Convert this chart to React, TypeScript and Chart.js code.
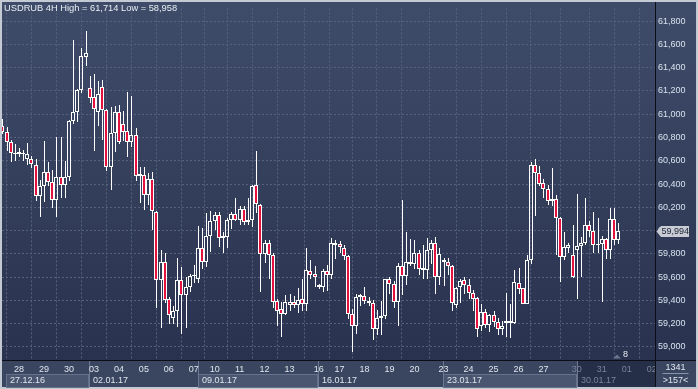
import { useEffect, useRef } from 'react';
import { Chart, registerables } from 'chart.js';

Chart.register(...registerables);

// ---- data (USDRUB 4H candles, oldest -> newest) ----
const opens = [
  60900, 60846, 60762, 60660, 60662, 60655, 60618, 60618, 60567, 60297,
  60382, 60500, 60416, 60264, 60458, 60390, 60458, 60939, 61023, 61209,
  61488, 61226, 61150, 61015, 61234, 61040, 60550, 60838, 61023, 60914,
  60855, 60762, 60821, 60466, 60474, 60306, 60441, 60162, 59571, 59732,
  59411, 59250, 59310, 59571, 59445, 59512, 59613, 59588, 59850, 59732,
  59951, 60086, 60137, 59934, 59942, 60095, 60145, 60095, 60188, 60095,
  60095, 60390, 60221, 59799, 59892, 59791, 59394, 59327, 59284, 59360,
  59386, 59360, 59411, 59369, 59656, 59630, 59512, 59512, 59656, 59622,
  59875, 59884, 59850, 59782, 59284, 59183, 59428, 59436, 59394, 59377,
  59150, 59250, 59267, 59588, 59538, 59386, 59698, 59613, 59715, 59715,
  59808, 59681, 59664, 59833, 59892, 59597, 59732, 59732, 59698, 59360,
  59512, 59571, 59529, 59461, 59419, 59183, 59301, 59191, 59276, 59217,
  59158, 59208, 59208, 59208, 59546, 59504, 59369, 59748, 60567, 60491,
  60407, 60356, 60255, 60272, 60112, 59774, 59850, 59791, 59833, 59867,
  59892, 60052, 59993, 59875, 59884, 59926, 59833, 60103, 59917,
];
const highs = [
  60960, 60888, 60779, 60745, 60711, 60694, 60753, 60643, 60618, 60432,
  60770, 60593, 60517, 60804, 60804, 60601, 60947, 61640, 61215, 61572,
  61714, 61327, 61344, 61285, 61293, 61045, 61066, 61074, 61082, 61032,
  61192, 61158, 60880, 60550, 60550, 60491, 60500, 60165, 59833, 59808,
  59428, 59352, 59765, 59689, 59597, 59630, 59706, 60036, 60019, 60154,
  60171, 60162, 60162, 59985, 60112, 60162, 60280, 60213, 60213, 60280,
  60392, 60686, 60225, 59917, 59917, 59808, 59411, 59386, 59445, 59453,
  59436, 59504, 59580, 59850, 59748, 59698, 59538, 59672, 59706, 59934,
  59917, 59909, 59875, 59791, 59326, 59453, 59453, 59512, 59428, 59402,
  59318, 59394, 59588, 59597, 59563, 59723, 60264, 59985, 59926, 59917,
  59833, 59875, 59934, 59917, 59943, 59850, 59765, 59765, 59706, 59512,
  59588, 59597, 59588, 59487, 59425, 59369, 59326, 59284, 59310, 59250,
  59225, 59461, 59369, 59664, 59681, 59506, 59791, 60593, 60618, 60551,
  60441, 60390, 60534, 60306, 60115, 59985, 59892, 60052, 60314, 59943,
  60280, 60086, 60162, 60112, 59951, 59934, 60196, 60196, 60061,
];
const lows = [
  60830, 60686, 60593, 60601, 60635, 60601, 60567, 60534, 60255, 60120,
  60247, 60382, 60196, 60120, 60280, 60280, 60424, 60914, 60930, 61184,
  61412, 61099, 60686, 60897, 60779, 60508, 60348, 60677, 60745, 60770,
  60635, 60719, 60424, 60238, 60179, 60221, 60002, 59335, 59166, 59377,
  59200, 59200, 59175, 59115, 59166, 59470, 59546, 59546, 59672, 59689,
  59816, 60002, 59858, 59808, 59850, 60010, 60086, 60044, 60044, 60044,
  60027, 60154, 59470, 59723, 59580, 59335, 59183, 59082, 59276, 59310,
  59335, 59293, 59310, 59310, 59580, 59512, 59495, 59470, 59478, 59588,
  59757, 59808, 59748, 59242, 58958, 59115, 59352, 59369, 59352, 59056,
  59099, 59099, 59242, 59453, 59335, 59183, 59445, 59529, 59698, 59672,
  59614, 59580, 59580, 59715, 59453, 59529, 59520, 59622, 59310, 59335,
  59377, 59453, 59411, 59310, 59082, 59141, 59166, 59124, 59175, 59099,
  59099, 59082, 59073, 59200, 59453, 59367, 59367, 59715, 60128, 60382,
  60280, 60221, 60213, 59791, 59555, 59748, 59808, 59595, 59411, 59597,
  59875, 59943, 59808, 59808, 59386, 59757, 59757, 59875, 59884,
];
const closes = [
  60850, 60762, 60669, 60670, 60672, 60668, 60660, 60576, 60297, 60382,
  60500, 60416, 60264, 60458, 60390, 60458, 60939, 61023, 61209, 61504,
  61530, 61142, 61049, 61175, 61040, 60550, 60838, 61023, 60762, 60846,
  60762, 60821, 60466, 60483, 60306, 60441, 60171, 59571, 59732, 59402,
  59276, 59310, 59571, 59445, 59512, 59613, 59622, 59850, 59732, 59951,
  60086, 60137, 59934, 59951, 60095, 60145, 60095, 60188, 60078, 60078,
  60385, 60230, 59799, 59892, 59791, 59386, 59310, 59284, 59386, 59386,
  59360, 59402, 59369, 59664, 59622, 59597, 59529, 59656, 59622, 59892,
  59892, 59858, 59782, 59284, 59183, 59428, 59445, 59394, 59377, 59150,
  59250, 59267, 59580, 59538, 59386, 59698, 59613, 59732, 59732, 59808,
  59672, 59664, 59833, 59892, 59597, 59799, 59748, 59698, 59377, 59505,
  59563, 59529, 59461, 59411, 59150, 59301, 59191, 59276, 59217, 59158,
  59183, 59225, 59225, 59554, 59495, 59369, 59748, 60567, 60491, 60399,
  60356, 60255, 60272, 60112, 59774, 59858, 59875, 59597, 59867, 59892,
  60052, 59993, 59875, 59884, 59926, 59833, 60103, 59917, 59994,
];

const symbolName = 'USDRUB';
const timeframe = '4H';
const priceTicks = [59000, 59200, 59400, 59600, 59800, 60000, 60200, 60400, 60600, 60800, 61000, 61200, 61400, 61600, 61800];
const dayTickIdx = [4, 10, 16, 22, 28, 34, 40, 46, 51, 57, 63, 69, 76, 81, 87, 93, 99, 106, 112, 118, 124, 130, 138, 144, 150, 156];
const dayLabels = ['28', '29', '30', '03', '04', '05', '06', '07', '10', '11', '12', '13', '16', '17', '18', '19', '20', '23', '24', '25', '26', '27', '30', '31', '01', '02'];
const weekBounds = [0.9, 20.8, 47.0, 75.8, 105.9, 138.1, 156.8];
const weekLabels = ['27.12.16', '02.01.17', '09.01.17', '16.01.17', '23.01.17', '30.01.17'];
const futureDayFrom = 22;
const infoTop = '1341';
const infoBottom = '>157<';
const markerLabel = '8';

const X_MIN = -0.084;
const X_MAX = 156.79;
const Y_MIN = 58887.6;
const Y_MAX = 61909.7;

const FONT = '"Liberation Sans", Arial, sans-serif';
const fmt = (v: number) => String(Math.round(v)).replace(/\B(?=(\d{3})+(?!\d))/g, ',');

const RED = '#e3123e';
const WHITE = '#ffffff';

const decorPlugin = {
  id: 'decor',
  beforeDraw(chart: any) {
    const ctx = chart.ctx as CanvasRenderingContext2D;
    const W = chart.width;
    const H = chart.height;
    const ca = chart.chartArea;
    const xs = chart.scales.x;
    ctx.save();
    ctx.fillStyle = '#c4cad4';
    ctx.fillRect(0, 0, W, H);
    const g = ctx.createLinearGradient(0, 2, 0, ca.bottom);
    g.addColorStop(0, '#3f4c69');
    g.addColorStop(1, '#29324f');
    ctx.fillStyle = g;
    ctx.fillRect(2, 2, W - 4, ca.bottom - 2);
    ctx.fillStyle = '#3a4560';
    ctx.fillRect(2, ca.bottom, W - 4, H - 2 - ca.bottom);
    const n = weekLabels.length;
    ctx.font = `9px ${FONT}`;
    ctx.textBaseline = 'middle';
    ctx.textAlign = 'left';
    for (let k = 0; k < n; k++) {
      const x0 = Math.round(xs.getPixelForValue(weekBounds[k]));
      const x1 = Math.min(Math.round(xs.getPixelForValue(weekBounds[k + 1])), ca.right);
      if (k === n - 1) {
        ctx.fillStyle = '#262f48';
        ctx.fillRect(x0, ca.bottom + 1, x1 - x0, H - 3 - ca.bottom);
      } else if (k % 2 === 0) {
        ctx.fillStyle = '#4a5570';
        ctx.fillRect(x0, 374, x1 - x0, 13);
        ctx.strokeStyle = '#66728b';
        ctx.lineWidth = 1;
        ctx.strokeRect(x0 + 0.5, 374.5, x1 - x0 - 1, 13);
      }
      if (k > 0) {
        ctx.strokeStyle = '#6c7890';
        ctx.lineWidth = 1;
        ctx.beginPath();
        ctx.moveTo(x0 + 0.5, ca.bottom + 1);
        ctx.lineTo(x0 + 0.5, H - 2);
        ctx.stroke();
      }
      ctx.fillStyle = k === n - 1 ? '#7a8499' : '#dfe6ee';
      ctx.fillText(weekLabels[k], x0 + 4, 381);
    }
    ctx.restore();
  },
  beforeDatasetsDraw(chart: any) {
    // snap candle elements to whole pixels so they stay crisp
    chart.data.datasets.forEach((_d: any, di: number) => {
      const meta = chart.getDatasetMeta(di);
      meta.data.forEach((el: any) => {
        if (el.$snapX === undefined) el.$snapX = el.x;
        const r = Math.round(el.$snapX);
        el.x = di === 0 ? r : r + 0.5;
        el.y = Math.round(el.y);
        el.base = Math.round(el.base);
      });
    });
  },
  afterDraw(chart: any) {
    const ctx = chart.ctx as CanvasRenderingContext2D;
    const W = chart.width;
    const H = chart.height;
    const ca = chart.chartArea;
    const ys = chart.scales.y;
    ctx.save();
    ctx.fillStyle = '#3a4560';
    ctx.fillRect(ca.right, ca.bottom, W - 2 - ca.right, H - 2 - ca.bottom);
    ctx.strokeStyle = '#0b0e16';
    ctx.lineWidth = 1;
    ctx.beginPath();
    ctx.moveTo(2, ca.bottom + 0.5);
    ctx.lineTo(W - 2, ca.bottom + 0.5);
    ctx.moveTo(ca.right + 0.5, 2);
    ctx.lineTo(ca.right + 0.5, H - 2);
    ctx.stroke();
    ctx.font = `9px ${FONT}`;
    ctx.textAlign = 'center';
    ctx.textBaseline = 'middle';
    ctx.fillStyle = '#dfe6ee';
    const cx = (ca.right + W - 2) / 2;
    ctx.fillText(infoTop, cx, 367.5);
    ctx.fillText(infoBottom, cx, 381);
    ctx.strokeStyle = '#8a94a8';
    ctx.beginPath();
    ctx.moveTo(cx - 13, 373.5);
    ctx.lineTo(cx + 13, 373.5);
    ctx.stroke();
    const last = closes[closes.length - 1];
    const py = Math.round(ys.getPixelForValue(last)) + 0.5;
    ctx.fillStyle = '#c8ccd4';
    ctx.beginPath();
    ctx.moveTo(ca.right + 1.5, py);
    ctx.lineTo(ca.right + 6, py - 5.5);
    ctx.lineTo(ca.right + 34, py - 5.5);
    ctx.lineTo(ca.right + 34, py + 5.5);
    ctx.lineTo(ca.right + 6, py + 5.5);
    ctx.closePath();
    ctx.fill();
    ctx.fillStyle = '#1c2333';
    ctx.textAlign = 'left';
    ctx.fillText(fmt(last), ca.right + 6.5, py);
    ctx.fillStyle = '#6b7489';
    ctx.beginPath();
    ctx.moveTo(613, 358.5);
    ctx.lineTo(621, 358.5);
    ctx.lineTo(617, 354.5);
    ctx.closePath();
    ctx.fill();
    ctx.fillStyle = '#e6ecf2';
    ctx.fillText(markerLabel, 623, 355);
    const hi = Math.max(...highs);
    const lo = Math.min(...lows);
    ctx.fillStyle = '#e8eef4';
    ctx.font = `9.3px ${FONT}`;
    ctx.fillText(`${symbolName} ${timeframe} High = ${fmt(hi)} Low = ${fmt(lo)}`, 4, 8.5);
    ctx.restore();
  },
};

export default function App() {
  const ref = useRef<HTMLCanvasElement>(null);
  useEffect(() => {
    document.body.style.margin = '0';
    const bodies = opens.map((o, i) => ({ x: i, y: [o, closes[i]] }));
    const upper = opens.map((o, i) => ({ x: i, y: [Math.max(o, closes[i]), highs[i]] }));
    const lower = opens.map((o, i) => ({ x: i, y: [lows[i], Math.min(o, closes[i])] }));
    const bodyColors = opens.map((o, i) => (closes[i] < o ? RED : 'rgba(0,0,0,0)'));
    const chart = new Chart(ref.current as HTMLCanvasElement, {
      type: 'bar',
      data: {
        datasets: [
          {
            data: bodies as any,
            backgroundColor: bodyColors,
            borderColor: WHITE,
            borderWidth: 1,
            borderSkipped: false,
            barThickness: 4,
            grouped: false,
            inflateAmount: 0,
          } as any,
          {
            data: upper as any,
            backgroundColor: WHITE,
            borderWidth: 0,
            barThickness: 1,
            grouped: false,
            inflateAmount: 0,
          } as any,
          {
            data: lower as any,
            backgroundColor: WHITE,
            borderWidth: 0,
            barThickness: 1,
            grouped: false,
            inflateAmount: 0,
          } as any,
        ],
      },
      options: {
        animation: false,
        responsive: false,
        maintainAspectRatio: false,
        events: [],
        layout: { padding: { left: 2, top: 2, right: 0, bottom: 0 } },
        plugins: { legend: { display: false }, tooltip: { enabled: false }, title: { display: false } },
        scales: {
          x: {
            type: 'linear',
            min: X_MIN,
            max: X_MAX,
            offset: false,
            afterBuildTicks: (s: any) => {
              s.ticks = dayTickIdx.map((v) => ({ value: v }));
            },
            afterFit: (s: any) => {
              s.height = 29;
            },
            grid: { color: '#56627c', lineWidth: 1, drawTicks: false },
            border: { display: false, dash: [2, 2] },
            ticks: {
              autoSkip: false,
              maxRotation: 0,
              minRotation: 0,
              padding: 4,
              font: { family: FONT, size: 9 },
              color: (c: any) => (c.index >= futureDayFrom ? '#7a8499' : '#dfe6ee'),
              callback: (_v: any, i: number) => dayLabels[i],
            },
          },
          y: {
            type: 'linear',
            position: 'right',
            min: Y_MIN,
            max: Y_MAX,
            afterBuildTicks: (s: any) => {
              s.ticks = priceTicks.map((v) => ({ value: v }));
            },
            afterFit: (s: any) => {
              s.width = 43;
            },
            grid: { color: '#56627c', lineWidth: 1, drawTicks: false },
            border: { display: false, dash: [2, 2] },
            ticks: {
              padding: 3,
              font: { family: FONT, size: 9 },
              color: '#d8e2ee',
              callback: (v: any) => fmt(Number(v)),
            },
          },
        },
      } as any,
      plugins: [decorPlugin],
    });
    return () => chart.destroy();
  }, []);
  return (
    <div style={{ position: 'fixed', left: 0, top: 0, width: 698, height: 389 }}>
      <canvas ref={ref} width={698} height={389} style={{ display: 'block', width: 698, height: 389 }} />
    </div>
  );
}
